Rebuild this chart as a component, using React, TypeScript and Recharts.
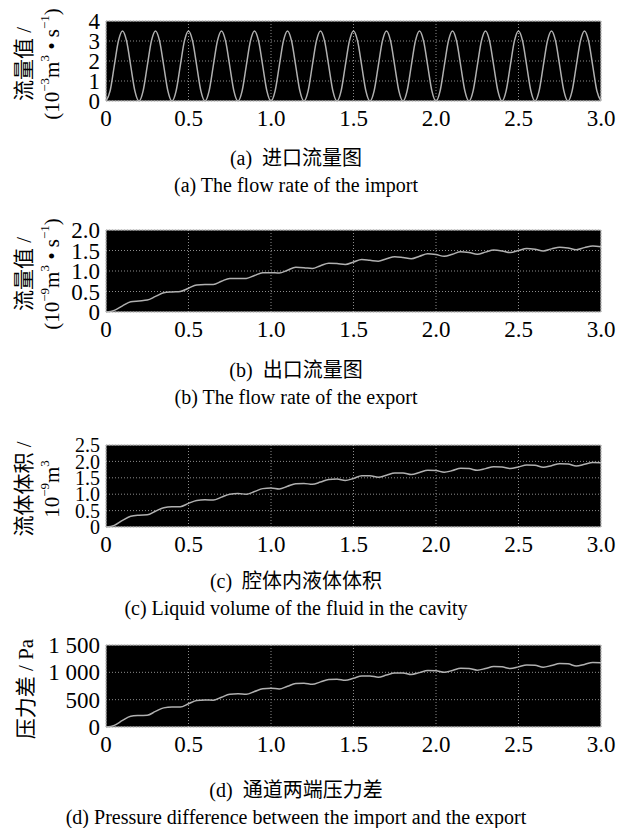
import React from "react";
import {
  LineChart,
  Line,
  XAxis,
  YAxis,
  CartesianGrid,
  ReferenceArea,
} from "recharts";

const SERIF = "'Liberation Serif', 'Times New Roman', serif";
const MIXED = "'Liberation Serif', 'Noto Sans CJK SC', serif";

// time axis, shared by all four panels
const xTicks = [0, 0.5, 1, 1.5, 2, 2.5, 3];
const xTickLabels = ["0", "0.5", "1.0", "1.5", "2.0", "2.5", "3.0"];

// (a) inlet flow, sampled every 0.025 s
const inletStep = 0.025;
const inletFlow = [
  0, 0.51, 1.75, 2.99, 3.5, 2.99, 1.75, 0.51,
  0, 0.51, 1.75, 2.99, 3.5, 2.99, 1.75, 0.51,
  0, 0.51, 1.75, 2.99, 3.5, 2.99, 1.75, 0.51,
  0, 0.51, 1.75, 2.99, 3.5, 2.99, 1.75, 0.51,
  0, 0.51, 1.75, 2.99, 3.5, 2.99, 1.75, 0.51,
  0, 0.51, 1.75, 2.99, 3.5, 2.99, 1.75, 0.51,
  0, 0.51, 1.75, 2.99, 3.5, 2.99, 1.75, 0.51,
  0, 0.51, 1.75, 2.99, 3.5, 2.99, 1.75, 0.51,
  0, 0.51, 1.75, 2.99, 3.5, 2.99, 1.75, 0.51,
  0, 0.51, 1.75, 2.99, 3.5, 2.99, 1.75, 0.51,
  0, 0.51, 1.75, 2.99, 3.5, 2.99, 1.75, 0.51,
  0, 0.51, 1.75, 2.99, 3.5, 2.99, 1.75, 0.51,
  0, 0.51, 1.75, 2.99, 3.5, 2.99, 1.75, 0.51,
  0, 0.51, 1.75, 2.99, 3.5, 2.99, 1.75, 0.51,
  0, 0.51, 1.75, 2.99, 3.5, 2.99, 1.75, 0.51,
  0,
];
const inletYTicks = [0, 1, 2, 3, 4];
const inletYLabels = ["0", "1", "2", "3", "4"];

// (b)-(d) sampled every 0.05 s
const slowStep = 0.05;
const outletFlow = [
  0, 0.04, 0.15, 0.25, 0.27, 0.29, 0.38, 0.47, 0.49, 0.5,
  0.58, 0.66, 0.67, 0.67, 0.75, 0.82, 0.82, 0.82, 0.89, 0.96,
  0.96, 0.95, 1.02, 1.09, 1.08, 1.06, 1.13, 1.19, 1.18, 1.16,
  1.22, 1.28, 1.26, 1.24, 1.3, 1.35, 1.33, 1.3, 1.36, 1.42,
  1.4, 1.36, 1.41, 1.47, 1.45, 1.41, 1.46, 1.51, 1.49, 1.45,
  1.5, 1.55, 1.53, 1.49, 1.54, 1.58, 1.56, 1.52, 1.57, 1.61,
  1.59,
];
const outletYTicks = [0, 0.5, 1, 1.5, 2];
const outletYLabels = ["0", "0.5", "1.0", "1.5", "2.0"];

const cavityVolume = [
  0, 0.05, 0.2, 0.33, 0.36, 0.37, 0.48, 0.59, 0.62, 0.62,
  0.72, 0.81, 0.83, 0.82, 0.91, 1.0, 1.02, 1.0, 1.08, 1.17,
  1.19, 1.16, 1.24, 1.32, 1.33, 1.3, 1.37, 1.45, 1.46, 1.42,
  1.48, 1.56, 1.56, 1.52, 1.58, 1.65, 1.65, 1.6, 1.66, 1.73,
  1.72, 1.67, 1.72, 1.79, 1.78, 1.73, 1.78, 1.84, 1.83, 1.78,
  1.83, 1.89, 1.88, 1.82, 1.87, 1.93, 1.92, 1.86, 1.91, 1.97,
  1.96,
];
const volumeYTicks = [0, 0.5, 1, 1.5, 2, 2.5];
const volumeYLabels = ["0", "0.5", "1.0", "1.5", "2.0", "2.5"];

const pressureDiff = [
  0, 30, 120, 195, 210, 215, 285, 350, 365, 365,
  425, 485, 495, 490, 545, 600, 610, 600, 650, 700,
  710, 695, 745, 795, 800, 780, 825, 870, 875, 855,
  890, 935, 935, 910, 950, 990, 990, 960, 995, 1035,
  1030, 1000, 1035, 1075, 1070, 1040, 1070, 1105, 1100, 1070,
  1100, 1135, 1130, 1095, 1125, 1160, 1155, 1115, 1145, 1180,
  1175,
];
const pressureYTicks = [0, 500, 1000, 1500];
const pressureYLabels = ["0", "500", "1 000", "1 500"];

const toRows = (values: number[], step: number) =>
  values.map((v, i) => ({ t: +(i * step).toFixed(3), v }));

type Part = { text: string; sup?: boolean };
type TitleLine = { x: number; parts: Part[] };

const sup = (text: string): Part => ({ text, sup: true });
const txt = (text: string): Part => ({ text });

const PLOT_LEFT = 106;
const PLOT_RIGHT = 601;
const MARGIN_TOP = 22;
const AXIS_H = 40;

function YTitle(props: any) {
  const { lines, cy } = props;
  return (
    <g>
      {lines.map((line: TitleLine, i: number) => {
        let shifted = false;
        return (
          <text
            key={i}
            x={line.x}
            y={cy}
            transform={`rotate(-90 ${line.x} ${cy})`}
            textAnchor="middle"
            dominantBaseline="central"
            fontFamily={MIXED}
            fontSize={21}
            fill="#000"
          >
            {line.parts.map((p, j) => {
              let dy = 0;
              if (p.sup && !shifted) {
                dy = -8;
                shifted = true;
              } else if (!p.sup && shifted) {
                dy = 8;
                shifted = false;
              }
              return (
                <tspan key={j} dy={dy} fontSize={p.sup ? 13 : 21}>
                  {p.text}
                </tspan>
              );
            })}
          </text>
        );
      })}
    </g>
  );
}

type PanelProps = {
  rows: { t: number; v: number }[];
  yTicks: number[];
  yLabels: string[];
  yFont?: number;
  plotTop: number;
  plotH: number;
  title: TitleLine[];
  captionCn: string;
  captionEn: string;
  cnY: number;
  enY: number;
};

function Panel(p: PanelProps) {
  const yMax = p.yTicks[p.yTicks.length - 1];
  const height = MARGIN_TOP + p.plotH + AXIS_H;
  return (
    <>
      <div style={{ position: "absolute", left: 0, top: p.plotTop - MARGIN_TOP }}>
        <LineChart
          width={622}
          height={height}
          data={p.rows}
          margin={{ top: MARGIN_TOP, right: 622 - PLOT_RIGHT, left: 0, bottom: 0 }}
        >
          <CartesianGrid
            fill="#000"
            fillOpacity={1}
            stroke="#8c8c8c"
            strokeDasharray="1 2"
          />
          <XAxis
            dataKey="t"
            type="number"
            domain={[0, 3]}
            ticks={xTicks}
            interval={0}
            tickFormatter={(v: number) => xTickLabels[xTicks.indexOf(v)]}
            tickLine={false}
            axisLine={false}
            tickSize={0}
            tickMargin={9}
            height={AXIS_H}
            tick={{ fontFamily: SERIF, fontSize: 23, fill: "#000" }}
          />
          <YAxis
            type="number"
            domain={[0, yMax]}
            ticks={p.yTicks}
            interval={0}
            tickFormatter={(v: number) => p.yLabels[p.yTicks.indexOf(v)]}
            tickLine={false}
            axisLine={false}
            tickSize={0}
            tickMargin={6}
            width={PLOT_LEFT}
            tick={{ fontFamily: SERIF, fontSize: p.yFont ?? 23, fill: "#000" }}
            label={<YTitle lines={p.title} cy={MARGIN_TOP + p.plotH / 2 + 3} />}
          />
          <ReferenceArea
            x1={0}
            x2={3}
            y1={0}
            y2={yMax}
            fill="none"
            stroke="#c8c8c8"
            strokeWidth={1}
          />
          <Line
            type="monotone"
            dataKey="v"
            stroke="#b0b0b0"
            strokeWidth={1.5}
            dot={false}
            isAnimationActive={false}
          />
        </LineChart>
      </div>
      <div
        style={{
          position: "absolute",
          left: 0,
          width: 592,
          top: p.cnY - 13,
          textAlign: "center",
          fontFamily: MIXED,
          fontSize: 20,
          lineHeight: "26px",
          whiteSpace: "pre",
        }}
      >
        {p.captionCn}
      </div>
      <div
        style={{
          position: "absolute",
          left: 0,
          width: 592,
          top: p.enY - 13,
          textAlign: "center",
          fontFamily: SERIF,
          fontSize: 20,
          lineHeight: "26px",
          whiteSpace: "pre",
        }}
      >
        {p.captionEn}
      </div>
    </>
  );
}

export default function App() {
  return (
    <div
      style={{
        position: "absolute",
        left: 0,
        top: 0,
        width: 622,
        height: 828,
        background: "#fff",
      }}
    >
      <Panel
        rows={toRows(inletFlow, inletStep)}
        yTicks={inletYTicks}
        yLabels={inletYLabels}
        plotTop={21}
        plotH={80}
        title={[
          { x: 24, parts: [txt("流量值 /")] },
          {
            x: 52,
            parts: [txt("(10"), sup("−3"), txt("m"), sup("3"), txt(" • s"), sup("−1"), txt(")")],
          },
        ]}
        captionCn="(a)  进口流量图"
        captionEn="(a) The flow rate of the import"
        cnY={158}
        enY={185}
      />
      <Panel
        rows={toRows(outletFlow, slowStep)}
        yTicks={outletYTicks}
        yLabels={outletYLabels}
        plotTop={230}
        plotH={82}
        title={[
          { x: 24, parts: [txt("流量值 /")] },
          {
            x: 52,
            parts: [txt("(10"), sup("−9"), txt("m"), sup("3"), txt(" • s"), sup("−1"), txt(")")],
          },
        ]}
        captionCn="(b)  出口流量图"
        captionEn="(b) The flow rate of the export"
        cnY={370}
        enY={397}
      />
      <Panel
        rows={toRows(cavityVolume, slowStep)}
        yTicks={volumeYTicks}
        yLabels={volumeYLabels}
        yFont={20}
        plotTop={445}
        plotH={82}
        title={[
          { x: 24, parts: [txt("流体体积 /")] },
          { x: 52, parts: [txt("10"), sup("−9"), txt("m"), sup("3")] },
        ]}
        captionCn="(c)  腔体内液体体积"
        captionEn="(c) Liquid volume of the fluid in the cavity"
        cnY={581}
        enY={608}
      />
      <Panel
        rows={toRows(pressureDiff, slowStep)}
        yTicks={pressureYTicks}
        yLabels={pressureYLabels}
        plotTop={645}
        plotH={82}
        title={[{ x: 26, parts: [txt("压力差 / Pa")] }]}
        captionCn="(d)  通道两端压力差"
        captionEn="(d) Pressure difference between the import and the export"
        cnY={790}
        enY={817}
      />
    </div>
  );
}
